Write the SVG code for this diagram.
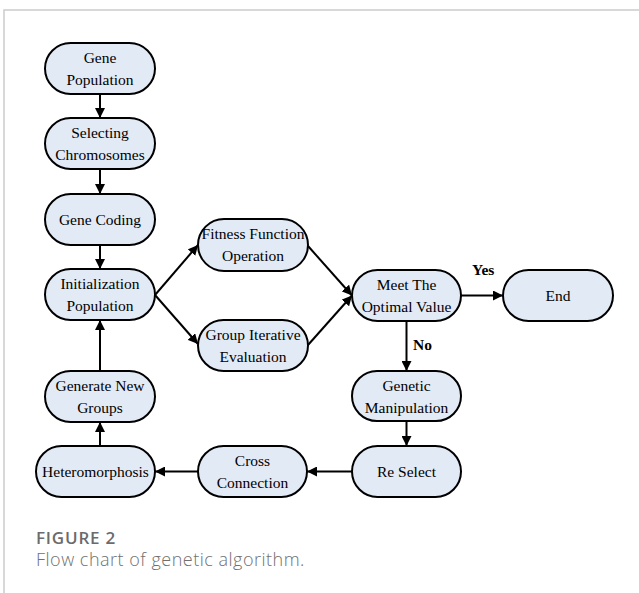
<svg xmlns="http://www.w3.org/2000/svg" width="639" height="593" viewBox="0 0 639 593">
<defs>
<style>
.box{fill:#e2eaf6;stroke:#000;stroke-width:2}
.t{font-family:"Liberation Serif","Times New Roman",serif;font-size:15.5px;fill:#000;text-anchor:middle}
.lbl{font-family:"Liberation Serif","Times New Roman",serif;font-size:15.5px;font-weight:bold;fill:#000}
.c{stroke:#000;stroke-width:2;fill:none;marker-end:url(#ah)}
.cap1{font-family:"Open Sans","Noto Sans",sans-serif;font-size:17px;font-weight:600;letter-spacing:0.8px;fill:#6b6b6b}
.cap2{font-family:"Open Sans","Noto Sans",sans-serif;font-size:18px;font-weight:300;letter-spacing:0.5px;fill:#707070}
</style>
<marker id="ah" viewBox="0 0 10 10" refX="10" refY="5" markerWidth="10" markerHeight="10" markerUnits="userSpaceOnUse" orient="auto">
<path d="M0,0 L10,5 L0,10 Z" fill="#000"/>
</marker>
</defs>
<rect width="639" height="593" fill="#fff"/>
<path d="M4,593 V10 H639" fill="none" stroke="#cccccc" stroke-width="1.5"/>

<g id="connectors">
<line class="c" x1="100" y1="94" x2="100" y2="118"/>
<line class="c" x1="100" y1="169" x2="100" y2="194"/>
<line class="c" x1="100" y1="245" x2="100" y2="269"/>
<line class="c" x1="100" y1="371" x2="100" y2="320"/>
<line class="c" x1="100" y1="446" x2="100" y2="422"/>
<line class="c" x1="155" y1="295" x2="198" y2="245"/>
<line class="c" x1="155" y1="295" x2="198" y2="344"/>
<line class="c" x1="308" y1="246" x2="352" y2="295.5"/>
<line class="c" x1="308" y1="345" x2="352" y2="295.5"/>
<line class="c" x1="461" y1="295.5" x2="503" y2="295.5"/>
<line class="c" x1="406.5" y1="321" x2="406.5" y2="371"/>
<line class="c" x1="406.5" y1="421" x2="406.5" y2="446"/>
<line class="c" x1="352" y1="471.5" x2="307" y2="471.5"/>
<line class="c" x1="198" y1="471.5" x2="155" y2="471.5"/>
<text class="lbl" x="472" y="275">Yes</text>
<text class="lbl" x="413" y="350">No</text>
</g>

<g id="n1"><rect class="box" x="45" y="43" width="110" height="51" rx="25.5"/><text class="t" x="100" y="63">Gene</text><text class="t" x="100" y="85">Population</text></g>
<g id="n2"><rect class="box" x="45" y="118" width="110" height="51" rx="25.5"/><text class="t" x="100" y="138">Selecting</text><text class="t" x="100" y="160">Chromosomes</text></g>
<g id="n3"><rect class="box" x="45" y="194" width="110" height="51" rx="25.5"/><text class="t" x="100" y="225">Gene Coding</text></g>
<g id="n4"><rect class="box" x="45" y="269" width="110" height="51" rx="25.5"/><text class="t" x="100" y="289">Initialization</text><text class="t" x="100" y="311">Population</text></g>
<g id="n5"><rect class="box" x="45" y="371" width="110" height="51" rx="25.5"/><text class="t" x="100" y="391">Generate New</text><text class="t" x="100" y="413">Groups</text></g>
<g id="n6"><rect class="box" x="36" y="446" width="119" height="51" rx="25.5"/><text class="t" x="95.5" y="477">Heteromorphosis</text></g>
<g id="n7"><rect class="box" x="198" y="219" width="110" height="52" rx="26"/><text class="t" x="253" y="239">Fitness Function</text><text class="t" x="253" y="261">Operation</text></g>
<g id="n8"><rect class="box" x="198" y="320" width="110" height="51" rx="25.5"/><text class="t" x="253" y="340">Group Iterative</text><text class="t" x="253" y="362">Evaluation</text></g>
<g id="n9"><rect class="box" x="352" y="270" width="109" height="51" rx="25.5"/><text class="t" x="406.5" y="290">Meet The</text><text class="t" x="406.5" y="312">Optimal Value</text></g>
<g id="n10"><rect class="box" x="503" y="270" width="110" height="51" rx="25.5"/><text class="t" x="558" y="301">End</text></g>
<g id="n11"><rect class="box" x="352" y="371" width="109" height="50" rx="25"/><text class="t" x="406.5" y="391">Genetic</text><text class="t" x="406.5" y="413">Manipulation</text></g>
<g id="n12"><rect class="box" x="352" y="446" width="109" height="51" rx="25.5"/><text class="t" x="406.5" y="477">Re Select</text></g>
<g id="n13"><rect class="box" x="198" y="446" width="109" height="51" rx="25.5"/><text class="t" x="252.5" y="466">Cross</text><text class="t" x="252.5" y="488">Connection</text></g>

<text class="cap1" x="36" y="544">FIGURE 2</text>
<text class="cap2" x="36" y="566">Flow chart of genetic algorithm.</text>
</svg>
